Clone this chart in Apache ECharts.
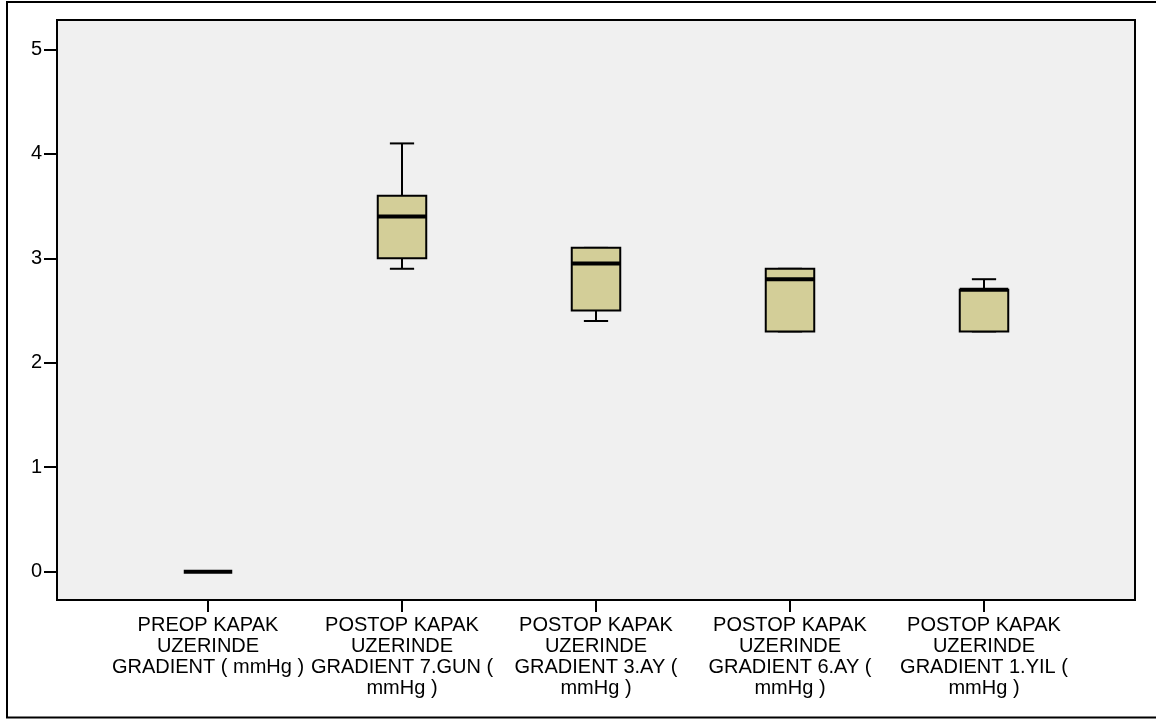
<!DOCTYPE html>
<html>
<head>
<meta charset="utf-8">
<script src="https://cdn.jsdelivr.net/npm/echarts@6/dist/echarts.min.js"></script>
<style>
  html, body { margin: 0; padding: 0; background: #ffffff; }
  #chart { width: 1156px; height: 719px; }
</style>
</head>
<body>
<div id="chart"></div>
<script>
// Gradient measurements (mmHg) at each follow-up point
const categories = [
  'PREOP KAPAK\nUZERINDE\nGRADIENT ( mmHg )',
  'POSTOP KAPAK\nUZERINDE\nGRADIENT 7.GUN (\nmmHg )',
  'POSTOP KAPAK\nUZERINDE\nGRADIENT 3.AY (\nmmHg )',
  'POSTOP KAPAK\nUZERINDE\nGRADIENT 6.AY (\nmmHg )',
  'POSTOP KAPAK\nUZERINDE\nGRADIENT 1.YIL (\nmmHg )'
];
const minVals    = [0, 2.9, 2.4, 2.3, 2.3];
const q1Vals     = [0, 3.0, 2.5, 2.3, 2.3];
const medianVals = [0, 3.4, 2.95, 2.8, 2.7];
const q3Vals     = [0, 3.6, 3.1, 2.9, 2.7];
const maxVals    = [0, 4.1, 3.1, 2.9, 2.8];
const yTicks = [0, 1, 2, 3, 4, 5];

const boxData = categories.map((c, i) => [i, minVals[i], q1Vals[i], medianVals[i], q3Vals[i], maxVals[i]]);

const BOX_FILL = '#d3ce98';
const INK = '#000000';
const FONT = 'Liberation Sans, Arial, sans-serif';

function renderBox(params, api) {
  const idx = api.value(0);
  const band = api.size([1, 0])[0];
  const boxW = band * 0.25;
  const capW = boxW / 2;
  const pMin = api.coord([idx, api.value(1)]);
  const pQ1 = api.coord([idx, api.value(2)]);
  const pMed = api.coord([idx, api.value(3)]);
  const pQ3 = api.coord([idx, api.value(4)]);
  const pMax = api.coord([idx, api.value(5)]);
  const cx = pMed[0];
  const line = (x1, y1, x2, y2, w) => ({
    type: 'line',
    shape: { x1: x1, y1: y1, x2: x2, y2: y2 },
    style: { stroke: INK, lineWidth: w }
  });
  const children = [];
  const hasSpread = api.value(5) !== api.value(1);
  if (hasSpread) {
    if (pMax[1] < pQ3[1]) children.push(line(cx, pMax[1], cx, pQ3[1], 2));
    if (pMin[1] > pQ1[1]) children.push(line(cx, pQ1[1], cx, pMin[1], 2));
    children.push(line(cx - capW / 2, pMax[1], cx + capW / 2, pMax[1], 2));
    children.push(line(cx - capW / 2, pMin[1], cx + capW / 2, pMin[1], 2));
    children.push({
      type: 'rect',
      shape: { x: cx - boxW / 2, y: pQ3[1], width: boxW, height: pQ1[1] - pQ3[1] },
      style: { fill: BOX_FILL, stroke: INK, lineWidth: 2 }
    });
  }
  children.push(line(cx - boxW / 2, pMed[1], cx + boxW / 2, pMed[1], 4));
  return { type: 'group', children: children };
}

const chart = echarts.init(document.getElementById('chart'), null, { renderer: 'canvas' });
chart.setOption({
  animation: false,
  backgroundColor: '#ffffff',
  textStyle: { fontFamily: FONT },
  graphic: {
    elements: [
      {
        type: 'rect', z: -10,
        shape: { x: 7, y: 2, width: 1160, height: 715.5 },
        style: { fill: 'none', stroke: INK, lineWidth: 2 }
      },
      {
        type: 'rect', z: -5,
        shape: { x: 57, y: 20, width: 1078, height: 580 },
        style: { fill: '#f0f0f0', stroke: INK, lineWidth: 2 }
      }
    ]
  },
  grid: [
    // value range 0..5 for the boxes
    { left: 111, right: 75, top: 49.4, bottom: 147.3, containLabel: false },
    // category ticks and labels along the bottom edge of the frame
    { left: 111, right: 75, top: 20, bottom: 119, containLabel: false }
  ],
  xAxis: [
    {
      gridIndex: 0,
      type: 'category',
      data: categories,
      boundaryGap: true,
      axisLine: { show: false },
      axisTick: { show: false },
      axisLabel: { show: false },
      splitLine: { show: false }
    },
    {
      gridIndex: 1,
      type: 'category',
      data: categories,
      boundaryGap: true,
      axisLine: { show: false },
      axisTick: { show: true, alignWithLabel: true, length: 12, lineStyle: { color: INK, width: 2 } },
      axisLabel: {
        interval: 0,
        margin: 15,
        color: INK,
        fontSize: 20,
        lineHeight: 21,
        fontFamily: FONT,
        align: 'center'
      },
      splitLine: { show: false }
    }
  ],
  yAxis: [
    {
      gridIndex: 0,
      type: 'value',
      min: yTicks[0],
      max: yTicks[yTicks.length - 1],
      interval: 1,
      offset: 54,
      axisLine: { show: false },
      axisTick: { show: true, length: 13, lineStyle: { color: INK, width: 2 } },
      axisLabel: { margin: 15, color: INK, fontSize: 20, fontFamily: FONT },
      splitLine: { show: false }
    },
    {
      gridIndex: 1,
      type: 'value',
      show: false
    }
  ],
  series: [{
    type: 'custom',
    xAxisIndex: 0,
    yAxisIndex: 0,
    renderItem: renderBox,
    encode: { x: 0, y: [1, 2, 3, 4, 5] },
    data: boxData,
    z: 5
  }]
});
</script>
</body>
</html>
